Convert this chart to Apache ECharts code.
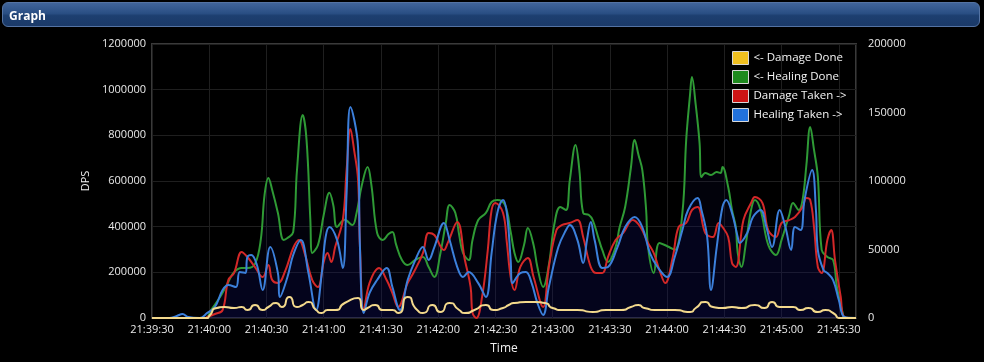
<!DOCTYPE html>
<html>
<head>
<meta charset="utf-8">
<script src="https://cdn.jsdelivr.net/npm/echarts@6/dist/echarts.min.js"></script>
<style>
  html, body { margin: 0; padding: 0; background: #000; width: 984px; height: 362px; overflow: hidden; }
  #chart { position: absolute; left: 0; top: 0; width: 984px; height: 362px; }
  #hdr { position: absolute; left: 2px; top: 2px; width: 978px; height: 25px; border-radius: 6px;
    background: linear-gradient(#40649a 0%, #2a4f84 45%, #1d3f70 55%, #1b3a68 100%);
    border: 1px solid #5473a3; box-sizing: border-box; }
  #hdr span { position: absolute; left: 6px; top: 4px; color: #fff; font: bold 12px "Open Sans", sans-serif; }
</style>
</head>
<body>
<div id="chart"></div>
<div id="hdr"><span>Graph</span></div>
<script>
// time offsets in seconds from 21:39:30
const startLabel = '21:39:30';
const xTickSeconds = [0, 30, 60, 90, 120, 150, 180, 210, 240, 270, 300, 330, 360];
const leftTicks = [0, 200000, 400000, 600000, 800000, 1000000, 1200000];
const rightTicks = [0, 50000, 100000, 150000, 200000];
const seriesNames = ['<- Damage Done', '<- Healing Done', 'Damage Taken ->', 'Healing Taken ->'];

const healingDoneT = [0,28,31,36,40,43,47,50,54,57,59,61,63,66,69,71,74,76,79,81,83,84,87,90,93,95,97,101,105,107,110,113,115,118,121,124,126,128,131,134,138,142,145,148,151,154,156,159,161,163,166,168,171,175,178,181,185,188,190,192,195,197,200,202,205,208,211,214,217,219,222,224,226,229,231,234,236,239,243,245,248,251,253,255,257,259,260,263,266,271,274,278,280,282,283,285,287,288,290,293,296,298,299,302,304,306,307,309,311,314,316,319,323,327,330,334,336,339,341,343,345,347,349,351,354,357,359,362,363,369];
const healingDoneV = [0,0,35000,96000,158000,201000,219000,219000,237000,342000,539000,613000,561000,460000,342000,350000,376000,648000,889000,780000,429000,285000,320000,451000,548000,495000,399000,430000,407000,451000,582000,661000,582000,372000,342000,368000,377000,320000,254000,232000,254000,267000,223000,180000,276000,416000,495000,460000,364000,285000,254000,342000,429000,460000,508000,517000,495000,377000,285000,245000,320000,394000,320000,223000,136000,232000,416000,486000,473000,604000,758000,648000,460000,451000,429000,350000,298000,245000,311000,394000,486000,657000,780000,714000,648000,473000,311000,197000,329000,311000,298000,460000,780000,977000,1055000,933000,767000,617000,635000,626000,639000,635000,661000,574000,473000,398000,285000,223000,311000,473000,517000,473000,320000,276000,342000,451000,504000,473000,517000,670000,837000,736000,618000,298000,267000,254000,136000,22000,0,0];

const damageTakenT = [0,28,29,33,37,40,43,47,50,54,58,61,63,66,70,74,77,80,84,87,90,92,94,96,100,102,104,106,108,109,111,114,119,123,126,129,134,137,142,145,148,153,155,160,164,167,168,170,173,176,178,180,184,186,188,190,193,197,200,205,208,212,215,219,223,226,230,233,236,239,243,247,252,256,260,263,266,269,273,276,280,283,286,290,294,297,299,302,304,306,310,314,316,320,323,327,330,334,337,341,343,345,347,349,351,354,356,358,361,363,369];
const damageTakenV = [0,0,700,2900,5800,27700,32800,48200,44500,37200,29900,38700,27700,25500,35000,51100,56900,47400,27700,22600,40900,47400,40900,51800,71500,108000,138000,122000,101000,51800,5800,25500,36500,27700,18200,8000,25500,32800,47400,62100,60600,49600,54800,70100,42300,22600,3700,0,15300,49600,78800,83900,76700,55000,29900,20400,37200,43800,29900,8000,37200,64200,67900,69400,71500,59100,37200,32800,32800,44500,56900,62100,71500,66400,54800,47400,35000,25500,44500,66400,69400,78800,81000,62100,59100,69400,66400,59100,40100,37200,71500,83900,88300,83900,64200,59100,69400,71500,73700,81000,87600,86100,66400,37200,32800,56900,64200,42300,15300,700,0];

const healingTakenT = [0,9,13,16,19,25,29,33,37,40,44,46,49,50,52,55,58,62,66,67,71,74,78,82,86,89,91,93,97,100,102,104,108,109,111,114,118,123,126,130,134,138,142,145,148,153,156,160,163,166,171,175,178,181,184,186,188,189,193,196,199,202,205,208,213,217,219,223,226,228,230,232,236,239,244,248,253,257,261,265,270,274,278,281,286,288,291,293,296,299,301,304,307,308,312,315,319,322,325,329,332,335,337,340,342,346,348,349,352,354,357,360,363,369];
const healingTakenV = [0,0,1500,2900,700,0,3700,8000,20400,24100,22600,33600,32800,44500,46000,38700,20400,51800,32800,15300,29900,46000,56900,32800,5800,32800,59100,66400,56900,36500,91300,154000,124800,51800,3700,18200,27700,36500,22600,5800,27700,42300,51800,42300,51800,69400,56900,37200,29900,33600,25500,15300,47400,76700,86100,76700,42300,25500,32800,33600,25500,11000,2200,22600,51800,64200,67900,56900,40100,56900,70100,56900,36500,37200,51800,66400,73700,66400,47400,37200,29900,44500,64200,78800,87600,78800,59100,20400,51800,81000,86100,76700,59100,54800,62100,73700,78800,66400,51800,78800,66400,49600,66400,64200,86100,108000,78800,49600,35000,32800,27700,13100,700,0];

const damageDoneT = [0,29,30,34,38,43,47,50,54,58,61,65,68,72,76,79,82,86,89,92,96,101,108,111,113,117,121,126,129,134,139,142,147,151,156,161,164,169,175,179,184,187,190,196,201,206,210,215,223,231,238,246,251,255,258,265,274,282,285,290,294,299,304,309,316,321,325,329,336,340,344,349,353,357,361,369];
const damageDoneV = [0,0,8800,43800,48200,43800,48200,35000,57000,35000,48200,65700,48200,92000,48200,57000,70100,35000,21900,35000,35000,65700,87600,35000,43800,57000,35000,35000,21900,92000,35000,21900,57000,26300,65700,35000,21900,35000,57000,35000,43800,57000,65700,70100,70100,65700,43800,35000,35000,26300,35000,35000,48200,57000,43800,35000,35000,26300,43800,70100,48200,43800,48200,43800,57000,43800,70100,48200,48200,35000,43800,26300,35000,21900,0,0];

function pairs(t, v) { return t.map((x, i) => [x, v[i]]); }
const base = 21 * 3600 + 39 * 60 + 30;
function fmtTime(s) {
  const tt = base + s;
  const h = Math.floor(tt / 3600), m = Math.floor((tt % 3600) / 60), sec = tt % 60;
  return h + ':' + String(m).padStart(2, '0') + ':' + String(sec).padStart(2, '0');
}

const font = '"Open Sans", "Noto Sans", sans-serif';
const areaFill = { color: 'rgba(16, 22, 100, 0.15)' };
const plain = v => String(v);

const chart = echarts.init(document.getElementById('chart'), null, { renderer: 'canvas' });
chart.setOption({
  backgroundColor: '#000',
  animation: false,
  grid: { left: 152, right: 128, top: 44, bottom: 44, show: true, borderColor: '#3a3a3a', borderWidth: 2, backgroundColor: 'transparent' },
  legend: {
    orient: 'vertical', left: 732, top: 51, padding: 0, itemWidth: 16, itemHeight: 13, itemGap: 5,
    icon: 'rect',
    data: seriesNames,
    itemStyle: { borderColor: '#d8d8d8', borderWidth: 1 },
    textStyle: { color: '#f4f4f4', fontSize: 11.5, fontFamily: font }
  },
  xAxis: {
    type: 'value', min: 0, max: 369, interval: 30,
    name: 'Time', nameLocation: 'middle', nameGap: 25,
    nameTextStyle: { color: '#f0f0f0', fontSize: 12, fontFamily: font },
    axisLine: { show: false }, axisTick: { show: false },
    axisLabel: { color: '#e8e8e8', fontSize: 11, fontFamily: font, margin: 6,
      formatter: v => (xTickSeconds.indexOf(v) >= 0 ? fmtTime(v) : '') },
    splitLine: { show: true, lineStyle: { color: '#1f1f1f', width: 1 } }
  },
  yAxis: [
    {
      type: 'value', min: leftTicks[0], max: leftTicks[leftTicks.length - 1], interval: 200000,
      name: 'DPS', nameLocation: 'middle', nameGap: 41, nameRotate: 90,
      nameTextStyle: { color: '#f0f0f0', fontSize: 11, fontFamily: font },
      axisLine: { show: false }, axisTick: { show: false },
      axisLabel: { color: '#e8e8e8', fontSize: 11, fontFamily: font, margin: 6, formatter: plain },
      splitLine: { show: true, lineStyle: { color: '#1f1f1f', width: 1 } }
    },
    {
      type: 'value', min: rightTicks[0], max: rightTicks[rightTicks.length - 1], interval: 50000,
      position: 'right',
      axisLine: { show: false }, axisTick: { show: false },
      axisLabel: { color: '#e8e8e8', fontSize: 11, fontFamily: font, margin: 12, formatter: plain },
      splitLine: { show: false }
    }
  ],
  series: [
    { name: seriesNames[1], type: 'line', yAxisIndex: 0, smooth: 0.4, showSymbol: false,
      data: pairs(healingDoneT, healingDoneV), itemStyle: { color: '#1e8a1e' },
      lineStyle: { color: '#2f9a35', width: 2 }, areaStyle: areaFill },
    { name: seriesNames[2], type: 'line', yAxisIndex: 1, smooth: 0.4, showSymbol: false,
      data: pairs(damageTakenT, damageTakenV), itemStyle: { color: '#cc1414' },
      lineStyle: { color: '#d42828', width: 2 }, areaStyle: areaFill },
    { name: seriesNames[3], type: 'line', yAxisIndex: 1, smooth: 0.4, showSymbol: false,
      data: pairs(healingTakenT, healingTakenV), itemStyle: { color: '#2272dc' },
      lineStyle: { color: '#3c80dc', width: 2 }, areaStyle: areaFill },
    { name: seriesNames[0], type: 'line', yAxisIndex: 0, smooth: 0.8, showSymbol: false,
      data: pairs(damageDoneT, damageDoneV), itemStyle: { color: '#f0c020' },
      lineStyle: { color: '#f3d98c', width: 2 }, areaStyle: areaFill }
  ]
});
</script>
</body>
</html>
